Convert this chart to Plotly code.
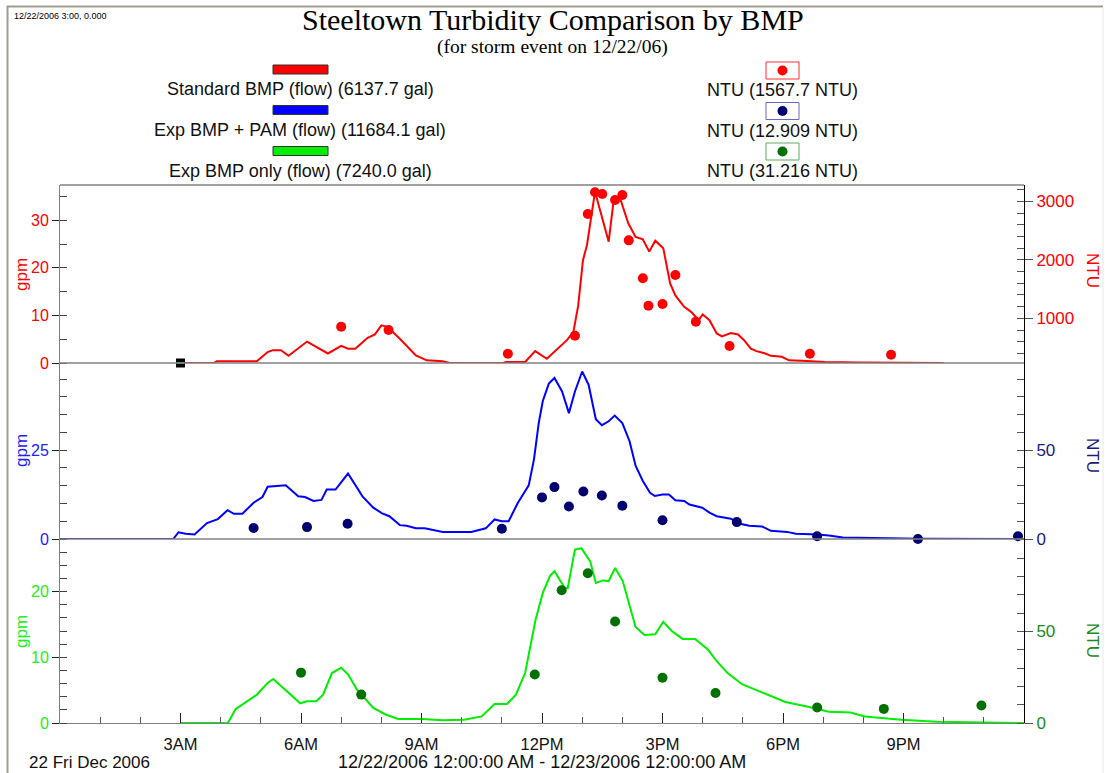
import pandas as pd
import plotly.graph_objects as go

# ---------------- data (time in hours after midnight 12/22/2006) ----------------
std_flow_hours = [3.0, 3.84, 3.9, 4.9, 5.17, 5.3, 5.5, 5.69, 6.15, 6.67, 7.0, 7.17, 7.35, 7.66,
                  7.84, 8.0, 8.15, 8.46, 8.86, 9.13, 9.53, 9.7, 11.04, 11.1, 11.58, 11.83, 12.12,
                  12.4, 12.62, 12.78, 12.9, 13.02, 13.12, 13.32, 13.43, 13.66, 13.79, 13.93, 14.15,
                  14.33, 14.51, 14.67, 14.82, 15.02, 15.19, 15.32, 15.54, 15.72, 15.9, 16.0, 16.17,
                  16.35, 16.48, 16.7, 16.88, 17.03, 17.2, 17.34, 17.56, 17.7, 17.97, 18.15, 18.6,
                  19.04, 19.86, 22.0]
std_flow_gpm = [0, 0, 0.35, 0.35, 2.3, 2.7, 2.7, 1.5, 4.5, 2.0, 3.6, 3.0, 3.0, 5.3,
                6.0, 7.9, 7.6, 5.1, 1.6, 0.56, 0.35, 0, 0, 0.2, 0.2, 2.5, 0.9,
                3.0, 4.8, 6.5, 12.0, 21.6, 24.8, 36.0, 32.5, 25.5, 34.6, 35.0, 29.3,
                26.5, 26.0, 23.4, 25.7, 24.1, 16.7, 14.2, 11.8, 10.7, 9.0, 10.2, 9.0,
                6.2, 5.6, 6.3, 6.0, 4.8, 3.0, 2.5, 2.0, 1.5, 1.3, 0.56, 0.4,
                0.2, 0.1, 0]
std_ntu_hours = [7.0, 8.18, 11.15, 12.82, 13.14, 13.32, 13.5, 13.82, 14.0, 14.16, 14.51,
                 14.65, 15.0, 15.32, 15.83, 16.67, 18.67, 20.69]
std_ntu = [857, 800, 395, 703, 2783, 3154, 3125, 3022, 3108, 2333, 1684,
           1216, 1244, 1740, 942, 526, 395, 378]

pam_flow_hours = [0, 2.82, 2.95, 3.13, 3.35, 3.66, 3.93, 4.17, 4.33, 4.54, 4.82, 5.04, 5.17,
                  5.62, 5.93, 6.1, 6.31, 6.51, 6.64, 6.86, 7.17, 7.53, 7.8, 8.02, 8.2, 8.46,
                  8.63, 8.86, 9.08, 9.53, 10.24, 10.6, 10.82, 11.0, 11.17, 11.4, 11.67, 11.8,
                  11.92, 12.02, 12.17, 12.31, 12.5, 12.67, 12.82, 13.0, 13.16, 13.34, 13.49,
                  13.66, 13.81, 14.0, 14.18, 14.33, 14.51, 14.69, 14.81, 15.0, 15.16, 15.32,
                  15.54, 15.67, 15.99, 16.17, 16.35, 16.53, 16.7, 16.93, 17.16, 17.48, 17.7,
                  18.1, 18.32, 18.87, 19.14, 19.49, 20.35, 21.39, 24.0]
pam_flow_gpm = [0, 0, 1.9, 1.5, 1.3, 4.5, 5.6, 8.1, 7.1, 7.1, 10.2, 11.8, 14.7,
                15.1, 12.0, 11.8, 10.7, 11.0, 13.9, 13.9, 18.4, 12.0, 8.8, 7.2, 6.4, 3.9,
                3.7, 3.0, 3.0, 2.0, 2.0, 3.0, 5.5, 5.0, 5.0, 10.2, 15.1, 22.4,
                32.7, 38.8, 43.7, 45.3, 41.5, 35.4, 41.5, 47.1, 43.4, 33.7, 32.0,
                33.1, 34.7, 32.6, 27.5, 20.6, 16.3, 13.0, 12.1, 12.5, 12.5, 10.9,
                10.7, 9.7, 8.8, 7.4, 6.4, 6.0, 5.7, 4.3, 3.7, 3.5, 2.3,
                2.0, 1.5, 1.3, 1.0, 0.4, 0.2, 0.1, 0]
pam_ntu_hours = [4.82, 6.15, 7.16, 11.0, 12.0, 12.31, 12.67, 13.03, 13.49, 14.0, 15.0,
                 16.85, 18.85, 21.36, 23.85]
pam_ntu = [6.2, 6.7, 8.6, 5.8, 23.4, 29.2, 18.3, 26.7, 24.5, 18.7, 10.5,
           9.5, 1.5, 0.0, 1.5]

exp_flow_hours = [3.0, 4.18, 4.37, 4.73, 4.9, 5.17, 5.31, 5.62, 5.98, 6.15, 6.38, 6.55, 6.77,
                  7.0, 7.17, 7.39, 7.8, 8.11, 8.42, 9.0, 9.53, 10.06, 10.5, 10.82, 11.13, 11.35,
                  11.58, 11.84, 12.02, 12.2, 12.31, 12.57, 12.64, 12.82, 12.98, 13.2, 13.34,
                  13.52, 13.66, 13.82, 14.01, 14.33, 14.55, 14.82, 15.02, 15.23, 15.5, 15.81,
                  16.13, 16.35, 16.62, 16.98, 17.52, 18.06, 18.6, 19.14, 19.68, 20.04, 20.94,
                  21.83, 24.0]
exp_flow_gpm = [0, 0, 2.1, 3.6, 4.3, 6.1, 6.7, 5.0, 3.0, 3.3, 3.3, 4.3, 7.6,
                8.4, 7.4, 5.1, 2.3, 1.3, 0.6, 0.6, 0.4, 0.5, 1.0, 2.9, 2.9, 4.3,
                7.6, 15.7, 19.8, 22.4, 23.1, 20.5, 20.5, 26.4, 26.6, 24.6, 21.3,
                21.7, 21.6, 23.6, 21.6, 14.6, 13.4, 13.5, 15.4, 14.0, 12.8, 12.8,
                11.2, 9.4, 7.6, 5.9, 4.5, 3.2, 2.5, 1.7, 1.6, 1.0, 0.5,
                0.2, 0]
exp_ntu_hours = [6.0, 7.5, 11.82, 12.49, 13.14, 13.82, 15.0, 16.32, 18.85, 20.51, 22.94]
exp_ntu = [27.5, 15.5, 26.5, 72.5, 81.8, 55.4, 24.7, 16.4, 8.5, 7.7, 9.6]

legend_flow = ["Standard BMP (flow) (6137.7 gal)",
               "Exp BMP + PAM (flow) (11684.1 gal)",
               "Exp BMP only (flow) (7240.0 gal)"]
legend_ntu = ["NTU (1567.7 NTU)", "NTU (12.909 NTU)", "NTU (31.216 NTU)"]

cursor_hour = 3.0
cursor_value = 0.0

tick_hours = [3, 6, 9, 12, 15, 18, 21]
tick_text = ["3AM", "6AM", "9AM", "12PM", "3PM", "6PM", "9PM"]

# ---------------- helpers ----------------
BASE = pd.Timestamp("2006-12-22 00:00:00")


def to_time(hours):
    return [BASE + pd.Timedelta(hours=h) for h in hours]


W, H = 1105, 773
ML, MR, MT, MB = 60, 81, 185, 50
PW, PH = W - ML - MR, H - MT - MB


def px(x):
    return (x - ML) / PW


def py(y):
    return (H - MB - y) / PH


FLOW_RED, FLOW_BLUE, FLOW_GREEN = "#ff0000", "#0000ff", "#00ee00"
DOT_RED, DOT_BLUE, DOT_GREEN = "#ff0000", "#000070", "#007000"
SANS = "Liberation Sans, Arial, sans-serif"
SERIF = "Liberation Serif, Times New Roman, serif"

# panel boundaries in pixels
P1_TOP, P1_BOT = 185, 363
P2_BOT = 539
P3_BOT = 723

fig = go.Figure()

fig.add_trace(go.Scatter(x=to_time(std_flow_hours), y=std_flow_gpm, mode="lines",
                         line=dict(color=FLOW_RED, width=2), yaxis="y", xaxis="x"))
fig.add_trace(go.Scatter(x=to_time(std_ntu_hours), y=std_ntu, mode="markers",
                         marker=dict(color=DOT_RED, size=10), yaxis="y2", xaxis="x"))
fig.add_trace(go.Scatter(x=to_time([cursor_hour]), y=[cursor_value], mode="markers",
                         marker=dict(symbol="square", color="black", size=9),
                         yaxis="y", xaxis="x", cliponaxis=False))
fig.add_trace(go.Scatter(x=to_time([cursor_hour]), y=[cursor_value], mode="markers",
                         marker=dict(symbol="line-ew", size=5,
                                     line=dict(color="#00e0e0", width=1.5)),
                         yaxis="y", xaxis="x", cliponaxis=False))

fig.add_trace(go.Scatter(x=to_time(pam_flow_hours), y=pam_flow_gpm, mode="lines",
                         line=dict(color=FLOW_BLUE, width=2), yaxis="y3", xaxis="x"))
fig.add_trace(go.Scatter(x=to_time(pam_ntu_hours), y=pam_ntu, mode="markers",
                         marker=dict(color=DOT_BLUE, size=10), yaxis="y4", xaxis="x",
                         cliponaxis=False))

fig.add_trace(go.Scatter(x=to_time(exp_flow_hours), y=exp_flow_gpm, mode="lines",
                         line=dict(color=FLOW_GREEN, width=2), yaxis="y5", xaxis="x"))
fig.add_trace(go.Scatter(x=to_time(exp_ntu_hours), y=exp_ntu, mode="markers",
                         marker=dict(color=DOT_GREEN, size=10), yaxis="y6", xaxis="x"))

d1 = [py(P1_BOT), py(P1_TOP)]
d2 = [py(P2_BOT), py(P1_BOT)]
d3 = [0, py(P2_BOT)]


def left_axis(dom, rng, vals, minor, color):
    return dict(domain=dom, range=rng, tickmode="array", tickvals=vals,
                showgrid=False, zeroline=False,
                showline=True, linecolor="#808080", linewidth=1,
                ticks="outside", ticklen=7, tickcolor="#222222",
                minor=dict(tickmode="linear", tick0=0, dtick=minor, ticks="inside",
                           ticklen=7, tickcolor="#444444"),
                tickfont=dict(family=SANS, size=16, color=color), anchor="x")


def right_axis(dom, rng, vals, minor, color, over):
    return dict(domain=dom, range=rng, tickmode="array", tickvals=vals,
                showgrid=False, zeroline=False,
                showline=True, linecolor="#000000", linewidth=1, side="right",
                overlaying=over, anchor="x",
                ticks="outside", ticklen=8, tickcolor="#555555",
                minor=dict(tickmode="linear", tick0=0, dtick=minor, ticks="inside",
                           ticklen=7, tickcolor="#555555"),
                tickfont=dict(family=SANS, size=17, color=color))


fig.update_layout(
    width=W, height=H,
    margin=dict(l=ML, r=MR, t=MT, b=MB),
    paper_bgcolor="white", plot_bgcolor="white",
    showlegend=False,
    xaxis=dict(domain=[0, 1], anchor="y5", type="date",
               range=[BASE, BASE + pd.Timedelta(hours=24)],
               tickmode="array", tickvals=to_time(tick_hours), ticktext=tick_text,
               ticks="inside", ticklen=10, tickcolor="#222222",
               minor=dict(dtick=3600000, tick0=BASE, ticks="inside", ticklen=6,
                          tickcolor="#555555"),
               showline=True, linecolor="#808080", linewidth=1, showgrid=False,
               zeroline=False, ticklabelstandoff=6,
               tickfont=dict(family=SANS, size=16.5, color="#111111")),
    yaxis=left_axis(d1, [0, 37.4], [0, 10, 20, 30], 5, "#ff0000"),
    yaxis2=right_axis(d1, [236, 3279], [1000, 2000, 3000], 200, "#ff0000", "y"),
    yaxis3=left_axis(d2, [0, 49.5], [0, 25], 5, "#2020ff"),
    yaxis4=right_axis(d2, [0, 99], [0, 50], 10, "#1a1a80", "y3"),
    yaxis5=left_axis(d3, [0, 28], [0, 10, 20], 2, "#22ee22"),
    yaxis6=right_axis(d3, [0, 100.5], [0, 50], 10, "#1a8a1a", "y5"),
)

shapes = []
# outer page frame
shapes.append(dict(type="line", xref="paper", yref="paper", x0=px(7), x1=px(1103),
                   y0=py(6.5), y1=py(6.5), line=dict(color="#a09c90", width=2)))
shapes.append(dict(type="line", xref="paper", yref="paper", x0=px(7.5), x1=px(7.5),
                   y0=py(6), y1=py(773), line=dict(color="#a09c90", width=2)))
shapes.append(dict(type="line", xref="paper", yref="paper", x0=px(1103), x1=px(1103),
                   y0=py(7), y1=py(773), line=dict(color="#e8e8e0", width=1)))
# plot frame top and panel separators
for yy in (P1_TOP, P1_BOT, P2_BOT):
    shapes.append(dict(type="line", xref="paper", yref="paper", x0=0, x1=1,
                       y0=py(yy), y1=py(yy), line=dict(color="#808080", width=1.5)))

# legend swatches for the flow series
bar_centers = [69.5, 110, 151]
for yc, col in zip(bar_centers, [FLOW_RED, FLOW_BLUE, FLOW_GREEN]):
    shapes.append(dict(type="rect", xref="paper", yref="paper",
                       x0=px(273), x1=px(328), y0=py(yc + 4.5), y1=py(yc - 4.5),
                       fillcolor=col, line=dict(color="#333333", width=1)))
# legend swatches for the NTU series
box_centers = [70.5, 111, 151.5]
for yc, col, edge in zip(box_centers, [DOT_RED, DOT_BLUE, DOT_GREEN],
                         ["#ff3030", "#6a6ab8", "#5fae5f"]):
    shapes.append(dict(type="rect", xref="paper", yref="paper",
                       x0=px(766), x1=px(799), y0=py(yc + 8.5), y1=py(yc - 8.5),
                       fillcolor="white", line=dict(color=edge, width=1)))
    shapes.append(dict(type="circle", xref="paper", yref="paper",
                       x0=px(777.5), x1=px(787.5), y0=py(yc + 5), y1=py(yc - 5),
                       fillcolor=col, line=dict(color=col, width=0)))
fig.update_layout(shapes=shapes)

ann = []


def text(x, y, s, size, color="#111111", family=SANS, xanchor="center", angle=0):
    ann.append(dict(x=px(x), y=py(y), xref="paper", yref="paper", text=s, showarrow=False,
                    xanchor=xanchor, yanchor="middle", textangle=angle,
                    font=dict(family=family, size=size, color=color)))


text(553, 20, "Steeltown Turbidity Comparison by BMP", 30, "#000000", SERIF)
text(552, 47, "(for storm event on 12/22/06)", 19.5, "#000000", SERIF)
text(12, 16, "12/22/2006 3:00, 0.000", 9, "#000000", SANS, xanchor="left")

for yc, s in zip([89, 130, 171], legend_flow):
    text(300, yc, s, 18)
for yc, s in zip([90, 131, 171], legend_ntu):
    text(782, yc, s, 18)

text(21, 275, "gpm", 17, "#ff0000", angle=-90)
text(21, 451, "gpm", 17, "#2020ff", angle=-90)
text(21, 632, "gpm", 17, "#22ee22", angle=-90)
text(1093, 270, "NTU", 17, "#ff0000", angle=90)
text(1093, 455, "NTU", 17, "#1a1a80", angle=90)
text(1093, 640, "NTU", 17, "#1a8a1a", angle=90)

text(27, 762, "22 Fri Dec 2006", 17, xanchor="left")
text(542, 762, "12/22/2006 12:00:00 AM - 12/23/2006 12:00:00 AM", 18)

fig.update_layout(annotations=ann)

fig.write_html("out.html")
